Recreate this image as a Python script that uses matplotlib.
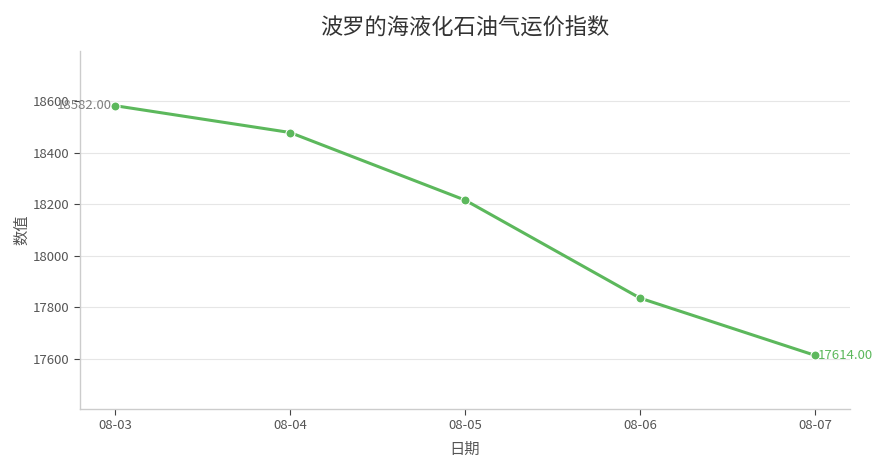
import matplotlib
matplotlib.use("Agg")
import matplotlib.pyplot as plt

plt.rcParams["font.family"] = ["Noto Sans CJK SC", "DejaVu Sans"]

dates = ["08-03", "08-04", "08-05", "08-06", "08-07"]
values = [18582.0, 18478.0, 18216.0, 17836.0, 17614.0]
yticks = [17600, 17800, 18000, 18200, 18400, 18600]

green = "#5cb85c"
text_grey = "#555555"

fig = plt.figure(figsize=(8.84, 4.68), dpi=100)
ax = fig.add_axes([80 / 884, (468 - 409) / 468, 770 / 884, 358 / 468])

x = list(range(len(dates)))
ax.plot(x, values, color=green, linewidth=2.2, marker="o", markersize=6.5,
        markeredgecolor="white", markeredgewidth=0.8, zorder=3)

# first / last value annotations
ax.annotate(f"{values[0]:.2f}", (x[0], values[0]), xytext=(-2, 0),
            textcoords="offset points", ha="right", va="center",
            fontsize=9.5, color="#808080")
ax.annotate(f"{values[-1]:.2f}", (x[-1], values[-1]), xytext=(2, 0),
            textcoords="offset points", ha="left", va="center",
            fontsize=9.5, color=green)

ax.set_xlim(-0.2, len(dates) - 0.8)
ax.set_ylim(17406, 18794)
ax.set_xticks(x)
ax.set_xticklabels(dates)
ax.set_yticks(yticks)

ax.grid(axis="y", color="#e6e6e6", linewidth=0.8)
ax.set_axisbelow(True)
for side in ("top", "right"):
    ax.spines[side].set_visible(False)
for side in ("left", "bottom"):
    ax.spines[side].set_color("#cccccc")
    ax.spines[side].set_linewidth(1.0)

ax.tick_params(axis="both", colors="#444444", labelcolor=text_grey,
               labelsize=9.5, length=4, width=0.8)

ax.set_xlabel("日期", fontsize=11, color=text_grey, labelpad=6)
ax.set_ylabel("数值", fontsize=11, color=text_grey, labelpad=2)
ax.set_title("波罗的海液化石油气运价指数", fontsize=16, color="#333333", pad=12)

fig.savefig("out.png", dpi=100)
